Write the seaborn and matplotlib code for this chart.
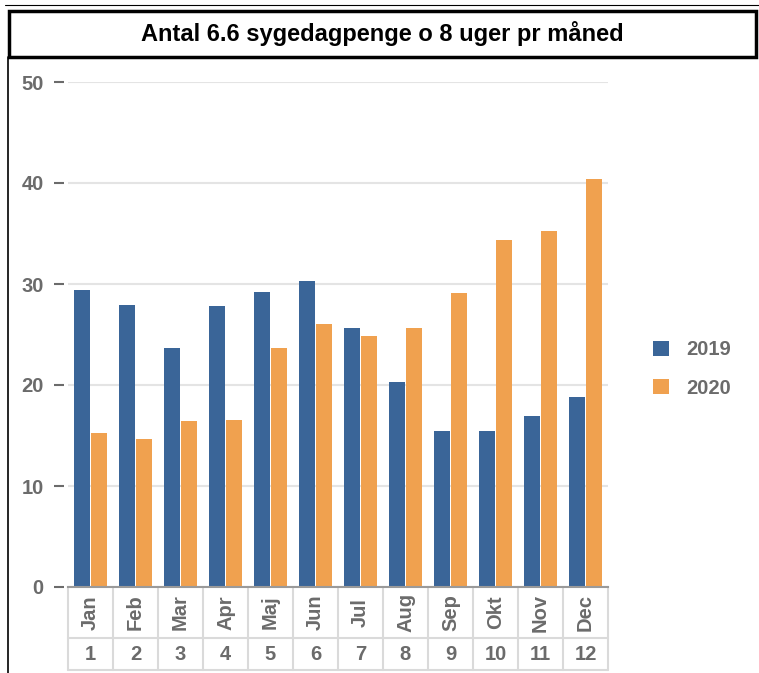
import pandas as pd
import matplotlib.pyplot as plt
import seaborn as sns
from matplotlib.patches import Rectangle
from matplotlib.lines import Line2D

# Data
maaneder = ['Jan', 'Feb', 'Mar', 'Apr', 'Maj', 'Jun', 'Jul', 'Aug', 'Sep', 'Okt', 'Nov', 'Dec']
maaned_nr = ['1', '2', '3', '4', '5', '6', '7', '8', '9', '10', '11', '12']
aar = ['2019', '2020']
vaerdier_2019 = [29.4, 27.9, 23.7, 27.8, 29.2, 30.3, 25.6, 20.3, 15.4, 15.4, 16.9, 18.8]
vaerdier_2020 = [15.2, 14.7, 16.4, 16.5, 23.7, 26.0, 24.9, 25.6, 29.1, 34.4, 35.2, 40.4]
y_ticks = [0, 10, 20, 30, 40, 50]

farver = ['#3a6598', '#f0a14f']
graa = '#6b6b6b'

df = pd.DataFrame({
    'maaned': maaneder * 2,
    'aar': [aar[0]] * 12 + [aar[1]] * 12,
    'antal': vaerdier_2019 + vaerdier_2020,
})

sns.set_style('white')
plt.rcParams['font.family'] = ['Liberation Sans', 'DejaVu Sans']

fig = plt.figure(figsize=(7.59, 6.73), dpi=100)
ax = fig.add_axes([68 / 759, 86 / 673, 540 / 759, 505 / 673])

sns.barplot(data=df, x='maaned', y='antal', hue='aar', palette=farver,
            width=0.75, gap=0.05, ax=ax, saturation=1, edgecolor='none')

# spine position first (it resets the ticks)
for side in ['top', 'right']:
    ax.spines[side].set_visible(False)
ax.spines['left'].set_position(('outward', 3))
ax.spines['left'].set_visible(False)
ax.spines['bottom'].set_color('#9a9a9a')
ax.spines['bottom'].set_linewidth(1.5)

ax.set_ylim(0, 50)
ax.set_xlim(-0.5, 11.5)
ax.set_yticks(y_ticks)
ax.set_yticklabels([str(t) for t in y_ticks], fontsize=14.5, fontweight='bold', color=graa)
ax.set_xticks([])
ax.set_xlabel('')
ax.set_ylabel('')
ax.yaxis.grid(True, color='#e4e4e4', linewidth=1.5)
ax.set_axisbelow(True)
ax.tick_params(axis='y', left=True, length=7.5, width=1.5, color=graa, pad=7)

# category table under the axis
tr = ax.get_xaxis_transform()
y_mid = -(638 - 587) / 505
y_bund = -(670 - 587) / 505
for k in range(13):
    ax.add_line(Line2D([k - 0.5, k - 0.5], [0, y_bund], transform=tr, color='#dadada',
                       linewidth=1.5, clip_on=False))
for yy in [y_mid, y_bund]:
    ax.add_line(Line2D([-0.5, 11.5], [yy, yy], transform=tr, color='#dadada',
                       linewidth=1.5, clip_on=False))
for i, (m, n) in enumerate(zip(maaneder, maaned_nr)):
    ax.text(i, y_mid / 2, m, transform=tr, rotation=90, ha='center', va='center',
            fontsize=14.5, fontweight='bold', color=graa, clip_on=False)
    ax.text(i, (y_mid + y_bund) / 2, n, transform=tr, ha='center', va='center',
            fontsize=14.5, fontweight='bold', color=graa, clip_on=False)

ax.legend(loc='center left', bbox_to_anchor=(0.850, 1 - 369 / 673),
          bbox_transform=fig.transFigure, frameon=False, title=None,
          prop={'weight': 'bold', 'size': 14.5},
          handlelength=0.8, handleheight=0.8, handletextpad=0.85,
          labelspacing=0.95, borderaxespad=0)
for t in ax.get_legend().get_texts():
    t.set_color(graa)

# title box and page border
fig.patches.append(Rectangle((9 / 759, 1 - 57 / 673), 747 / 759, 46 / 673,
                             transform=fig.transFigure, fill=False,
                             edgecolor='black', linewidth=2.5))
fig.lines.append(Line2D([8 / 759, 8 / 759], [0, 1 - 57 / 673], transform=fig.transFigure,
                        color='black', linewidth=1.2))
fig.lines.append(Line2D([5 / 759, 1], [1 - 5 / 673, 1 - 5 / 673], transform=fig.transFigure,
                        color='black', linewidth=0.8))
fig.text(0.5 * (9 + 756) / 759, 1 - 34 / 673, 'Antal 6.6 sygedagpenge o 8 uger pr måned',
         ha='center', va='center', fontsize=17, fontweight='bold', color='black')

fig.savefig('out.png', dpi=100)
